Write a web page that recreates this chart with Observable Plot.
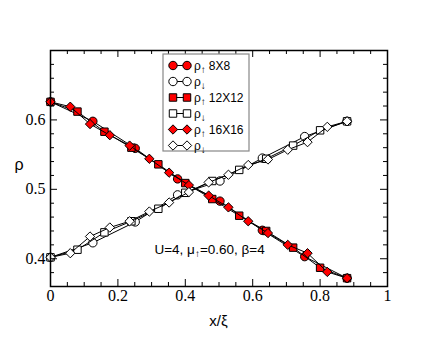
<!DOCTYPE html>
<html><head><meta charset="utf-8">
<script src="https://cdn.jsdelivr.net/npm/d3@7"></script>
<script src="https://cdn.jsdelivr.net/npm/@observablehq/plot@0.6"></script>
<style>body{margin:0;background:#fff}
.serif-lab, .serif-lab text { font-family: "Liberation Serif", "Times New Roman", "DejaVu Serif", serif !important; font-size: 16px !important; }
</style>
</head><body><div id="chart"></div>
<script>
// ---- data ----
const x8  = [0, 0.1257, 0.2514, 0.3771, 0.5029, 0.6286, 0.7543, 0.88];
const up8 = [0.626, 0.598, 0.559, 0.515, 0.483, 0.441, 0.403, 0.372];
const dn8 = [0.402, 0.423, 0.453, 0.492, 0.512, 0.545, 0.576, 0.598];
const x12  = [0, 0.08, 0.16, 0.24, 0.32, 0.40, 0.48, 0.56, 0.64, 0.72, 0.80, 0.88];
const up12 = [0.626, 0.612, 0.583, 0.560, 0.536, 0.509, 0.486, 0.462, 0.440, 0.416, 0.387, 0.372];
const dn12 = [0.402, 0.413, 0.438, 0.454, 0.472, 0.495, 0.512, 0.528, 0.544, 0.563, 0.585, 0.598];
const x16  = [0, 0.0587, 0.1173, 0.176, 0.2347, 0.2933, 0.352, 0.4107, 0.4693, 0.528, 0.5867, 0.6453, 0.704, 0.7627, 0.8213, 0.88];
const up16 = [0.626, 0.619, 0.594, 0.578, 0.563, 0.544, 0.524, 0.506, 0.491, 0.474, 0.454, 0.437, 0.420, 0.408, 0.381, 0.372];
const dn16 = [0.402, 0.408, 0.432, 0.445, 0.454, 0.468, 0.481, 0.496, 0.510, 0.521, 0.535, 0.543, 0.557, 0.568, 0.590, 0.598];

const seriesNames = ["8X8", "", "12X12", "", "16X16", ""];
const seriesSpin = ["↑", "↓", "↑", "↓", "↑", "↓"];
const xTickMajor = [0, 0.2, 0.4, 0.6, 0.8, 1];
const xTickMinor = [0.05, 0.1, 0.15, 0.25, 0.3, 0.35, 0.45, 0.5, 0.55, 0.65, 0.7, 0.75, 0.85, 0.9, 0.95];
const yTickMajor = [0.4, 0.5, 0.6, 0.7];
const yTickLabels = [0.4, 0.5, 0.6];
const yTickMinor = [0.38, 0.42, 0.44, 0.46, 0.48, 0.52, 0.54, 0.56, 0.58, 0.62, 0.64, 0.66, 0.68];
const annotation = {x: 0.31, y: 0.4065};

// ---- build ----
const series = [
  {xs: x8, ys: up8, symbol: "circle", fill: "#ff0000"},
  {xs: x8, ys: dn8, symbol: "circle", fill: "#ffffff"},
  {xs: x12, ys: up12, symbol: "square", fill: "#ff0000"},
  {xs: x12, ys: dn12, symbol: "square", fill: "#ffffff"},
  {xs: x16, ys: up16, symbol: "diamond2", fill: "#ff0000"},
  {xs: x16, ys: dn16, symbol: "diamond2", fill: "#ffffff"}
].map(s => ({...s, rows: s.xs.map((x, i) => ({x, y: s.ys[i]}))}));

const W = 436, H = 337, mL = 50, mR = 49, mT = 50, mB = 51;
const fw = W - mL - mR, fh = H - mT - mB;
const major = 7, minor = 4;
const serif = "'Liberation Serif', 'Times New Roman', 'DejaVu Serif', serif";
const sans = "'Liberation Sans', Arial, sans-serif";

const marks = [];
for (const s of series) {
  marks.push(Plot.line(s.rows, {x: "x", y: "y", stroke: "black", strokeWidth: 1}));
  marks.push(Plot.dot(s.rows, {x: "x", y: "y", symbol: () => s.symbol, r: 4.2, fill: s.fill, stroke: "black", strokeWidth: 1}));
}
// inward ticks on four sides
marks.push(
  Plot.tickX(xTickMajor, {x: d => d, insetTop: fh - major, stroke: "black"}),
  Plot.tickX(xTickMajor, {x: d => d, insetBottom: fh - major, stroke: "black"}),
  Plot.tickX(xTickMinor, {x: d => d, insetTop: fh - minor, stroke: "black"}),
  Plot.tickX(xTickMinor, {x: d => d, insetBottom: fh - minor, stroke: "black"}),
  Plot.tickY(yTickMajor, {y: d => d, insetRight: fw - major, stroke: "black"}),
  Plot.tickY(yTickMajor, {y: d => d, insetLeft: fw - major, stroke: "black"}),
  Plot.tickY(yTickMinor, {y: d => d, insetRight: fw - minor, stroke: "black"}),
  Plot.tickY(yTickMinor, {y: d => d, insetLeft: fw - minor, stroke: "black"}),
  Plot.text(xTickMajor, {x: d => d, frameAnchor: "bottom", lineAnchor: "top", dy: 3,
    text: d => String(d), fontFamily: serif, fontSize: 16, fill: "black", ariaLabel: "xticklabels"}),
  Plot.text(yTickLabels, {y: d => d, frameAnchor: "left", textAnchor: "end", dx: -5,
    text: d => d.toFixed(1), fontFamily: serif, fontSize: 16, fill: "black", ariaLabel: "yticklabels"}),
  Plot.frame({stroke: "black", strokeWidth: 1.5})
);

const chart = Plot.plot({
  width: W, height: H,
  marginLeft: mL, marginRight: mR, marginTop: mT, marginBottom: mB,
  x: {domain: [0, 1], axis: null},
  y: {domain: [0.36, 0.70], axis: null},
  style: {background: "white", color: "black", overflow: "visible"},
  marks
});
document.getElementById("chart").appendChild(chart);

const svg = d3.select(chart);
svg.selectAll('g[aria-label="xticklabels"], g[aria-label="yticklabels"]').classed("serif-lab", true)
  .style("font-family", serif).style("font-size", "16px");
const sx = chart.scale("x"), sy = chart.scale("y");

// axis labels
svg.append("text").attr("x", mL + fw / 2).attr("y", 326).attr("text-anchor", "middle")
  .attr("font-family", sans).attr("font-size", 15).text("x/ξ");
svg.append("text").attr("x", 19).attr("y", 170).attr("text-anchor", "middle")
  .attr("font-family", sans).attr("font-size", 16).text("ρ");

// annotation
const ann = svg.append("text").attr("x", sx.apply(annotation.x)).attr("y", sy.apply(annotation.y))
  .attr("text-anchor", "start").attr("font-family", sans).attr("font-size", 13.5);
ann.append("tspan").text("U=4, μ");
ann.append("tspan").attr("font-size", 10).attr("dy", 3).text("↑");
ann.append("tspan").attr("dy", -3).text("=0.60, β=4");

// legend
const lg = svg.append("g").attr("text-anchor", "start");
lg.append("rect").attr("x", 163).attr("y", 54).attr("width", 86).attr("height", 97)
  .attr("fill", "white").attr("stroke", "#888").attr("stroke-width", 1.2);
series.forEach((s, i) => {
  const yc = 65.5 + i * 16;
  lg.append("line").attr("x1", 173).attr("x2", 187).attr("y1", yc).attr("y2", yc).attr("stroke", "black");
  const type = s.symbol === "circle" ? d3.symbolCircle : s.symbol === "square" ? d3.symbolSquare : d3.symbolDiamond2;
  const path = d3.symbol().type(type).size(4.2 * 4.2 * Math.PI)();
  for (const px of [173, 187]) {
    lg.append("path").attr("d", path).attr("transform", `translate(${px},${yc})`)
      .attr("fill", s.fill).attr("stroke", "black");
  }
  const t = lg.append("text").attr("x", 194).attr("y", yc + 4).attr("text-anchor", "start")
    .attr("font-family", sans).attr("font-size", 12);
  t.append("tspan").text("ρ");
  t.append("tspan").attr("font-size", 10).attr("dy", 3).text(seriesSpin[i]);
  if (seriesNames[i]) t.append("tspan").attr("dy", -3).attr("dx", 3).text(seriesNames[i]);
});
</script>
</body></html>
